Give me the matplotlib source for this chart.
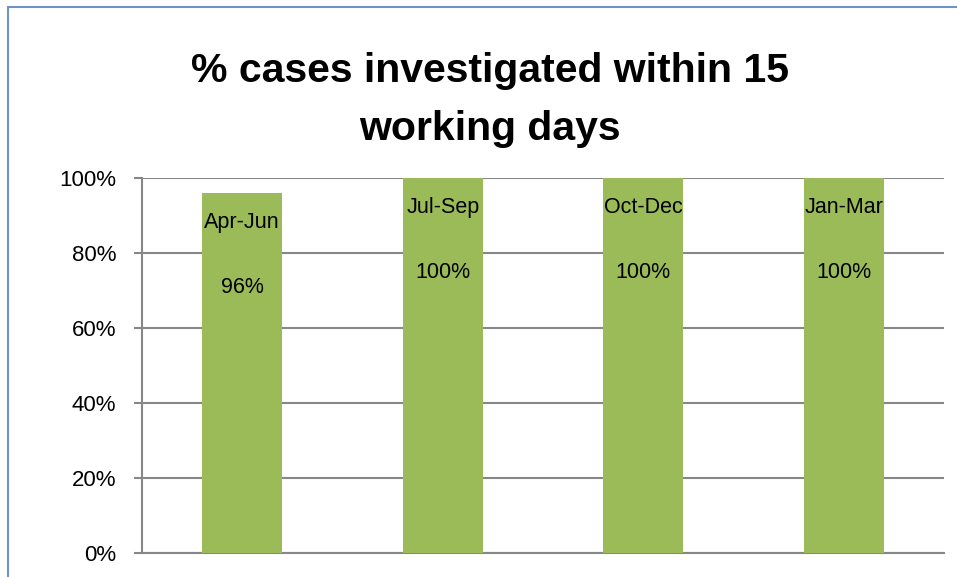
import matplotlib.pyplot as plt
from matplotlib.patches import Rectangle
from matplotlib.ticker import PercentFormatter

# data
quarters = ['Apr-Jun', 'Jul-Sep', 'Oct-Dec', 'Jan-Mar']
pct_investigated = [96, 100, 100, 100]

bar_color = '#9BBB59'
grid_color = '#878787'

plt.rcParams['font.family'] = ['Liberation Sans', 'DejaVu Sans']

fig = plt.figure(figsize=(9.57, 5.77), dpi=100)
ax = fig.add_axes([142 / 957, 24 / 577, 802 / 957, 375 / 577])

x = range(len(quarters))
ax.bar(x, pct_investigated, width=0.4, color=bar_color, zorder=3)

ax.set_xlim(-0.5, len(quarters) - 0.5)
ax.set_ylim(0, 100)
ax.set_yticks([0, 20, 40, 60, 80, 100])
ax.yaxis.set_major_formatter(PercentFormatter(decimals=0))
ax.set_xticks([])

ax.grid(axis='y', color=grid_color, linewidth=1.5, zorder=0)
for s in ['top', 'right']:
    ax.spines[s].set_visible(False)
for s in ['left', 'bottom']:
    ax.spines[s].set_color(grid_color)
    ax.spines[s].set_linewidth(1.5)
ax.tick_params(axis='y', length=6, width=1.5, color=grid_color,
               labelsize=16, pad=12.5)

# labels inside the bars
for i, (q, v) in enumerate(zip(quarters, pct_investigated)):
    ax.annotate(q, (i, v), xytext=(0, -21.5), textcoords='offset points',
                ha='center', va='center', fontsize=15.5, zorder=4)
    ax.annotate(f'{v}%', (i, v), xytext=(0, -68), textcoords='offset points',
                ha='center', va='center', fontsize=15.5, zorder=4)

fig.text(490 / 957, 1 - 100 / 577, '% cases investigated within 15\nworking days',
         ha='center', va='center', fontsize=29.5, fontweight='bold',
         linespacing=1.68)

# chart border
fig.patches.append(Rectangle((8 / 957, -0.05), 1.0, 1 - 7 / 577 + 0.05,
                             transform=fig.transFigure, fill=False,
                             edgecolor='#6D93C8', linewidth=1.5))

fig.savefig('out.png', dpi=100)
